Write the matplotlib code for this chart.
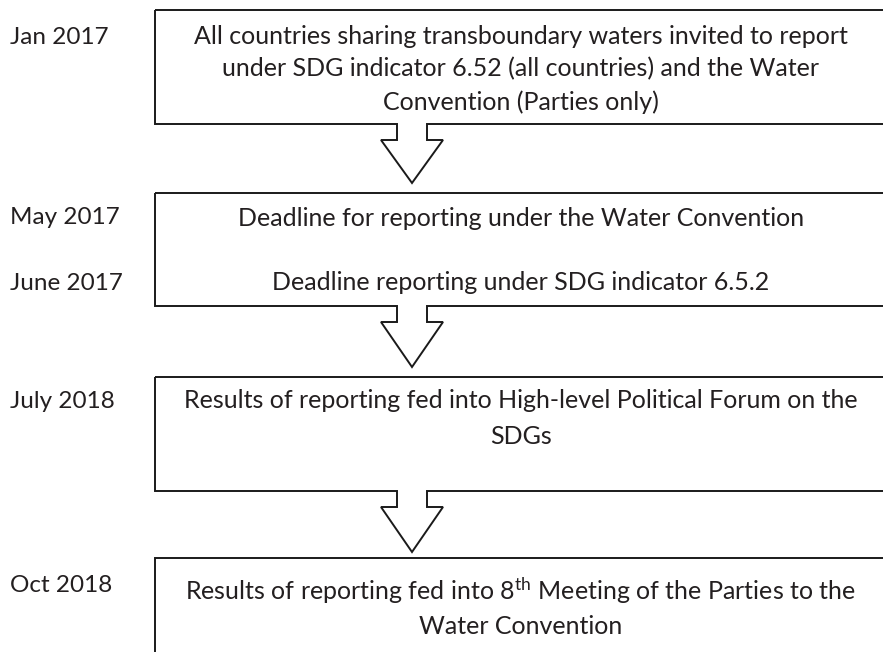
import matplotlib
matplotlib.use("Agg")
import matplotlib.pyplot as plt
from matplotlib.patches import Polygon

plt.rcParams['font.family'] = ['Lato', 'DejaVu Sans']
plt.rcParams['mathtext.fontset'] = 'custom'
plt.rcParams['mathtext.rm'] = 'Lato'
plt.rcParams['mathtext.it'] = 'Lato'

# ---- content ----
dates = ["Jan 2017", "May 2017", "June 2017", "July 2018", "Oct 2018"]
date_y = [37, 218, 283, 402, 585]

box_lines = [
    ["All countries sharing transboundary waters invited to report",
     "under SDG indicator 6.52 (all countries) and the Water",
     "Convention (Parties only)"],
    ["Deadline for reporting under the Water Convention",
     "", "Deadline reporting under SDG indicator 6.5.2"],
    ["Results of reporting fed into High-level Political Forum on the",
     "SDGs"],
    ["Results of reporting fed into 8$^{\\mathrm{th}}$ Meeting of the Parties to the",
     "Water Convention"],
]
box_text_y = [[37, 69, 102], [218, 250, 283], [401, 437], [591, 626]]

# ---- layout ----
box_top = [10, 193, 377, 558]
box_bot = [124, 306, 491, 700]
x_left, x_right = 155, 900
shaft_l, shaft_r = 397, 427
head_l, head_r, tip_x = 381, 443, 412
shaft_len = 16
tips = [183, 367, 552]

W, H = 883, 652
fig = plt.figure(figsize=(W / 100, H / 100), dpi=100)
ax = fig.add_axes([0, 0, 1, 1])
ax.set_xlim(0, W)
ax.set_ylim(H, 0)
ax.axis('off')

lc = '#1a1a1a'
tc = '#231f20'
for i in range(4):
    t, b = box_top[i], box_bot[i]
    if i < 3:
        pts = [(x_left, t), (x_right, t), (x_right, b), (shaft_r, b),
               (shaft_r, b + shaft_len), (head_r, b + shaft_len),
               (tip_x, tips[i]), (head_l, b + shaft_len),
               (shaft_l, b + shaft_len), (shaft_l, b), (x_left, b)]
    else:
        pts = [(x_left, b), (x_left, t), (x_right, t), (x_right, b)]
    ax.add_patch(Polygon(pts, closed=(i < 3), fill=False, edgecolor=lc,
                         linewidth=1.4, joinstyle='miter'))
    for line, y in zip(box_lines[i], box_text_y[i]):
        if line:
            ax.text(521, y, line, ha='center', va='center', fontsize=18,
                    color=tc)

for d, y in zip(dates, date_y):
    ax.text(10, y, d, ha='left', va='center', fontsize=17.5, color=tc)

fig.savefig("out.png", dpi=100)
